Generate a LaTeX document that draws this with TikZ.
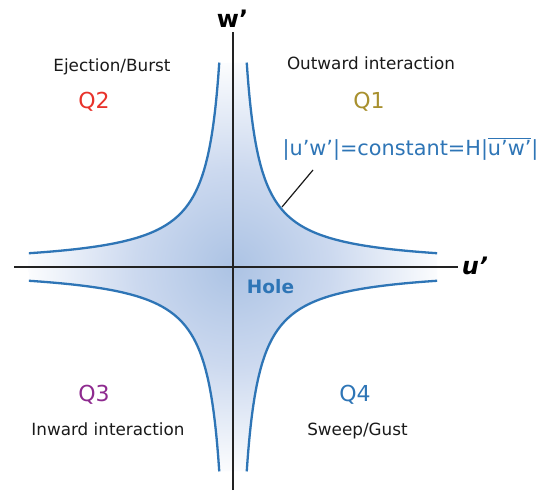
\documentclass[tikz,border=0pt]{standalone}
\usepackage{fontspec}
\setmainfont{DejaVu Sans}
\definecolor{curveblue}{RGB}{46,117,182}
\definecolor{qred}{RGB}{232,50,42}
\definecolor{qgold}{RGB}{168,144,46}
\definecolor{qpurple}{RGB}{142,42,143}
\definecolor{qblue}{RGB}{46,117,182}
\definecolor{axisgray}{RGB}{34,34,34}
\definecolor{txtblack}{RGB}{26,26,26}
\definecolor{holecenter}{RGB}{172,195,228}
\definecolor{holemid}{RGB}{204,217,239}
\pgfdeclareradialshading{holeshade}{\pgfpointorigin}{color(0bp)=(holecenter); color(12bp)=(holemid); color(26bp)=(white); color(50bp)=(white)}
\newcommand\myovl[1]{\leavevmode\vbox{\hrule height 1.6pt \kern 1.4pt \hbox{#1}}}
\tikzset{
  hyper/.style={draw=curveblue, line width=2.3pt},
  axisline/.style={draw=axisgray, line width=1.5pt},
  quadtext/.style={anchor=base, text=txtblack, font=\fontsize{16.8}{20}\selectfont, inner sep=0pt},
  qlab/.style={anchor=base, font=\fontsize{22}{26}\selectfont, inner sep=0pt},
}
\begin{document}
\begin{tikzpicture}[x=1pt,y=1pt]
\useasboundingbox (0,0) rectangle (543,490);
\begin{scope}[shift={(233,223)}]
  \path[shading=holeshade]
    plot[variable=\t,domain=-1:1,samples=90] ({53*exp(1.35*\t)},{53*exp(-1.35*\t)})
    -- plot[variable=\t,domain=1:-1,samples=90] ({53*exp(1.35*\t)},{-53*exp(-1.35*\t)})
    -- plot[variable=\t,domain=-1:1,samples=90] ({-53*exp(1.35*\t)},{-53*exp(-1.35*\t)})
    -- plot[variable=\t,domain=1:-1,samples=90] ({-53*exp(1.35*\t)},{53*exp(-1.35*\t)})
    -- cycle;
  \draw[hyper] plot[variable=\t,domain=-1:1,samples=90] ({53*exp(1.35*\t)},{53*exp(-1.35*\t)});
  \draw[hyper] plot[variable=\t,domain=-1:1,samples=90] ({53*exp(1.35*\t)},{-53*exp(-1.35*\t)});
  \draw[hyper] plot[variable=\t,domain=-1:1,samples=90] ({-53*exp(1.35*\t)},{-53*exp(-1.35*\t)});
  \draw[hyper] plot[variable=\t,domain=-1:1,samples=90] ({-53*exp(1.35*\t)},{53*exp(-1.35*\t)});
\end{scope}
% axes
\coordinate (ytop) at (233,458);
\coordinate (ybot) at (233,0);
\coordinate (xleft) at (14,223);
\coordinate (xright) at (458,223);
\draw[axisline] (ybot) -- (ytop);
\draw[axisline] (xleft) -- (xright);
\node[anchor=base, inner sep=0pt, font=\fontsize{24}{28}\selectfont\bfseries] (wlab) at (232.5,462) {w’};
\node[anchor=base, inner sep=0pt, font=\fontsize{24}{28}\selectfont\bfseries\itshape] (ulab) at (475,215) {u’};
% quadrant texts
\node[quadtext] (ej) at (112,418) {Ejection/Burst};
\node[quadtext] (ow) at (371,420) {Outward interaction};
\node[quadtext] (iw) at (108,55) {Inward interaction};
\node[quadtext] (sw) at (357.5,55) {Sweep/Gust};
\node[qlab, text=qred] (q2) at (94,381) {Q2};
\node[qlab, text=qgold] (q1) at (369,381) {Q1};
\node[qlab, text=qpurple] (q3) at (94,88.5) {Q3};
\node[qlab, text=qblue] (q4) at (355,88.5) {Q4};
\node[anchor=base, inner sep=0pt, text=qblue, font=\fontsize{18.5}{22}\selectfont\bfseries] (hole) at (270.5,196) {Hole};
\node[anchor=base, inner sep=0pt, text=qblue, font=\fontsize{20.8}{24}\selectfont] (formula) at (410.5,334) {|u’w’|=constant=H|\myovl{u’w’}|};
% leader
\coordinate (leadcurve) at (282,283);
\coordinate (leadtop) at (313,320);
\draw[draw=txtblack, line width=1.2pt] (leadcurve) -- (leadtop);
\end{tikzpicture}
\end{document}
